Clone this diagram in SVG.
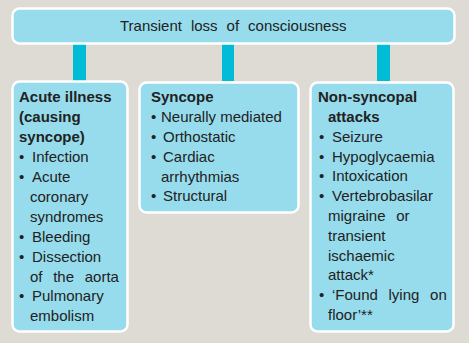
<svg xmlns="http://www.w3.org/2000/svg" width="469" height="343" viewBox="0 0 469 343">
<style>
.box{fill:#96dcec;stroke:#ffffff;stroke-width:2.5}
.conn{fill:#00bcd6}
text{font-family:"Liberation Sans",Arial,sans-serif;font-size:15px;fill:#222}
.b{font-weight:bold}
.w{word-spacing:6.5px}
</style>
<rect width="469" height="343" fill="#dedbd5"/>
<g id="connectors">
<rect class="conn" x="73" y="44" width="13" height="37"/>
<rect class="conn" x="222" y="44" width="12" height="37"/>
<rect class="conn" x="377" y="44" width="13" height="37"/>
</g>
<g id="top">
<rect class="box" x="12.5" y="8.5" width="442" height="35" rx="7"/>
<text x="120" y="31" style="word-spacing:4.8px">Transient loss of consciousness</text>
</g>
<g id="acute">
<rect class="box" x="12.5" y="81.5" width="115" height="250" rx="7"/>
<text class="b" x="19" y="102">Acute illness</text>
<text class="b" x="19" y="122">(causing</text>
<text class="b" x="19" y="142">syncope)</text>
<text x="19" y="162">•</text><text x="32" y="162">Infection</text>
<text x="19" y="182">•</text><text x="32" y="182">Acute</text>
<text x="30" y="202">coronary</text>
<text x="30" y="222">syndromes</text>
<text x="19" y="242">•</text><text x="32" y="242">Bleeding</text>
<text x="19" y="262">•</text><text x="32" y="262">Dissection</text>
<text class="w" x="30" y="282">of the aorta</text>
<text x="19" y="301">•</text><text x="32" y="301">Pulmonary</text>
<text x="30" y="321">embolism</text>
</g>
<g id="syncope">
<rect class="box" x="139.5" y="82.5" width="159" height="130" rx="7"/>
<text class="b" x="151" y="102">Syncope</text>
<text x="151" y="122">•</text><text x="161" y="122">Neurally mediated</text>
<text x="151" y="142">•</text><text x="163" y="142">Orthostatic</text>
<text x="151" y="162">•</text><text x="163" y="162">Cardiac</text>
<text x="161" y="182">arrhythmias</text>
<text x="151" y="201">•</text><text x="163" y="201">Structural</text>
</g>
<g id="nonsyncopal">
<rect class="box" x="310.5" y="82.5" width="143" height="249" rx="7"/>
<text class="b" x="318" y="102">Non-syncopal</text>
<text class="b" x="328" y="122">attacks</text>
<text x="319" y="142">•</text><text x="332" y="142">Seizure</text>
<text x="319" y="162">•</text><text x="332" y="162">Hypoglycaemia</text>
<text x="319" y="181">•</text><text x="332" y="181">Intoxication</text>
<text x="319" y="201">•</text><text x="332" y="201">Vertebrobasilar</text>
<text class="w" x="328" y="221">migraine or</text>
<text x="328" y="241">transient</text>
<text x="328" y="261">ischaemic</text>
<text x="328" y="280">attack*</text>
<text x="319" y="300">•</text><text class="w" x="332" y="300">‘Found lying on</text>
<text x="328" y="320">floor’**</text>
</g>
</svg>
